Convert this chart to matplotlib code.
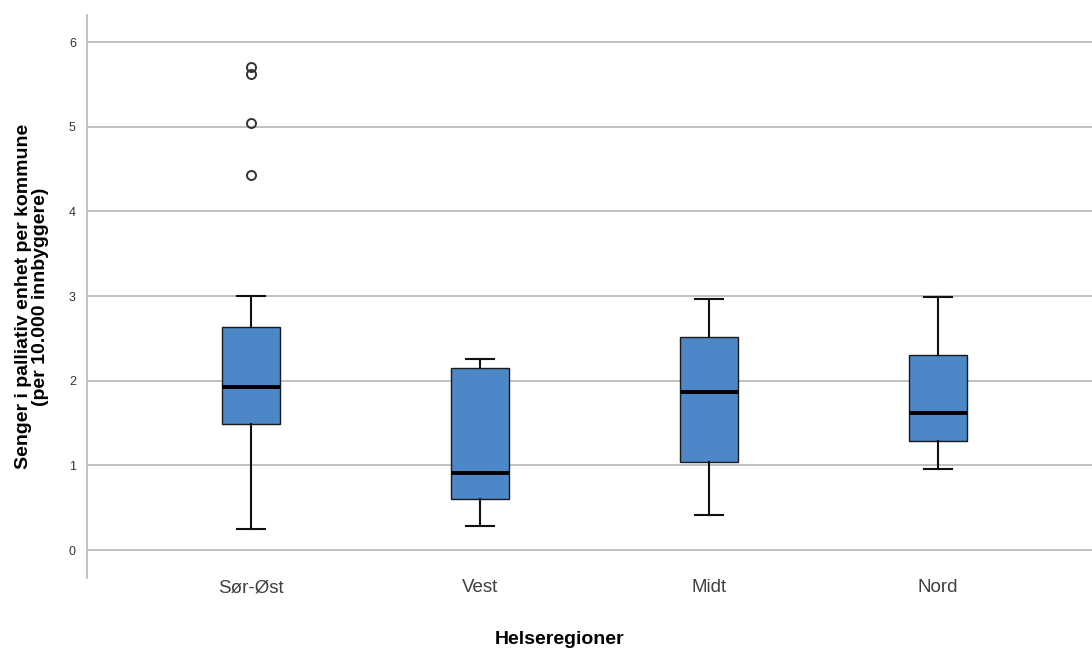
import matplotlib
matplotlib.use("Agg")
import matplotlib.pyplot as plt

plt.rcParams['font.family'] = ['Liberation Sans', 'DejaVu Sans']

categories = ["Sør-Øst", "Vest", "Midt", "Nord"]
whisker_low = [0.245, 0.29, 0.41, 0.96]
q1 = [1.49, 0.60, 1.04, 1.285]
median = [1.93, 0.906, 1.87, 1.62]
q3 = [2.63, 2.15, 2.52, 2.30]
whisker_high = [3.0, 2.26, 2.96, 2.99]
outliers = [[4.43, 5.05, 5.62, 5.70], [], [], []]
yticks = [0, 1, 2, 3, 4, 5, 6]

stats = []
for i, c in enumerate(categories):
    stats.append(dict(label=c, whislo=whisker_low[i], q1=q1[i], med=median[i],
                      q3=q3[i], whishi=whisker_high[i], fliers=outliers[i]))

fig = plt.figure(figsize=(10.92, 6.53), dpi=100)
ax = fig.add_axes([87/1092, 75/653, 1 - 87/1092, (578-15)/653])

ax.bxp(stats, positions=range(len(categories)), widths=0.25, patch_artist=True,
       showfliers=True,
       boxprops=dict(facecolor='#4d87c7', edgecolor='#1a1a1a', linewidth=1.0),
       medianprops=dict(color='black', linewidth=2.8),
       whiskerprops=dict(color='#111111', linewidth=1.5),
       capprops=dict(color='#111111', linewidth=1.5),
       capwidths=0.125,
       flierprops=dict(marker='o', markerfacecolor='none', markeredgecolor='#333333',
                       markersize=6.5, markeredgewidth=1.4),
       zorder=3)

ax.set_xlim(-0.716, 3.672)
ax.set_ylim(-0.33, 6.32)
ax.set_yticks(yticks)
ax.set_yticklabels([str(t) for t in yticks], fontsize=9, color='#333333')
ax.yaxis.grid(True, color='#b8b8b8', linewidth=1.2, zorder=0)
ax.set_axisbelow(True)
ax.tick_params(axis='y', length=0, pad=8)
ax.tick_params(axis='x', length=0, pad=1, labelsize=13.5, labelcolor='#404040')
ax.set_xticks(range(len(categories)))
ax.set_xticklabels(categories)

for s in ['top', 'right', 'bottom']:
    ax.spines[s].set_visible(False)
ax.spines['left'].set_color('#b8b8b8')
ax.spines['left'].set_linewidth(1.2)

ax.set_ylabel("Senger i palliativ enhet per kommune\n(per 10.000 innbyggere)",
              fontsize=14, fontweight='bold', labelpad=14, linespacing=1.0)
fig.text(560/1092, 1 - 640/653, "Helseregioner", ha='center', va='center',
         fontsize=14, fontweight='bold')

fig.savefig("out.png", dpi=100)
